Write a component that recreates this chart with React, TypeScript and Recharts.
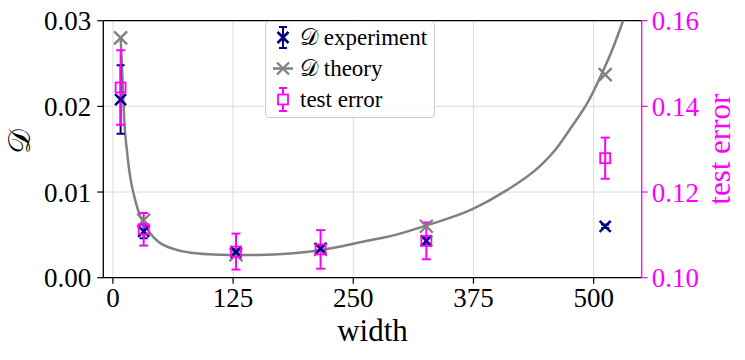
import React from "react";
import {
  ComposedChart,
  Line,
  Scatter,
  ErrorBar,
  XAxis,
  YAxis,
  CartesianGrid,
  ReferenceLine,
  Legend,
} from "recharts";

// couleurs façon matplotlib : navy / gris / magenta
const NAVY = "#000080";
const GRIS = "#808080";
const MAGENTA = "#ff00ff";
const GRILLE = "#dcdcdc";
const POLICE = "'Liberation Serif', 'DejaVu Serif', serif";

// largeurs testées
const largeurs = [8, 32, 128, 216, 326, 512];

// D mesuré (axe gauche) + barre d'erreur
const dExperience = [0.0208, 0.0054, 0.003, 0.0034, 0.0043, 0.006];
const dExperienceErr = [0.004, 0.0008, 0.0003, 0.0003, 0.0004, 0.0002];

// D théorique aux mêmes largeurs
const dTheorie = [0.028, 0.0067, 0.0027, 0.0033, 0.006, 0.0237];

// erreur de test (axe droit)
const erreurTest = [0.1444, 0.1113, 0.1061, 0.1066, 0.1086, 0.1279];
const erreurTestErr = [0.0087, 0.0038, 0.0042, 0.0045, 0.0043, 0.0048];

// courbe théorique
const courbeX = [
  8, 10.4, 11.7, 14.5, 17.9, 23.1, 28.3, 32, 38.7, 47.3, 64.6, 81.9, 99, 123,
  151, 168, 201, 230, 260, 294, 329, 374, 408, 443, 460, 477, 495, 508, 519, 531,
];
const courbeY = [
  0.0281, 0.0223, 0.0186, 0.0149, 0.0118, 0.0091, 0.0072, 0.0064, 0.0052,
  0.0042, 0.0033, 0.0029, 0.00273, 0.00265, 0.00265, 0.0027, 0.003, 0.0035,
  0.0042, 0.005, 0.0062, 0.008, 0.0101, 0.0129, 0.0149, 0.0176, 0.0207, 0.0237,
  0.0265, 0.0301,
];

const ticksX = [0, 125, 250, 375, 500];
const ticksD = [0, 0.01, 0.02, 0.03];
const ticksErreur = [0.1, 0.12, 0.14, 0.16];

const courbe = courbeX.map((x, i) => ({ x, y: courbeY[i] }));
const pointsExperience = largeurs.map((x, i) => ({ x, y: dExperience[i], err: dExperienceErr[i] }));
const pointsTheorie = largeurs.map((x, i) => ({ x, y: dTheorie[i] }));
const pointsErreur = largeurs.map((x, i) => ({ x, y: erreurTest[i], err: erreurTestErr[i] }));

function croix(couleur: string, r: number, ep: number) {
  return (p: any) => (
    <path
      d={`M${p.cx - r},${p.cy - r}L${p.cx + r},${p.cy + r}M${p.cx - r},${p.cy + r}L${p.cx + r},${p.cy - r}`}
      stroke={couleur}
      strokeWidth={ep}
      fill="none"
    />
  );
}

function carre(p: any) {
  return <rect x={p.cx - 5} y={p.cy - 5} width={10} height={10} stroke={MAGENTA} strokeWidth={1.8} fill="none" />;
}

function LegendeFigure() {
  const ligne: React.CSSProperties = { display: "flex", alignItems: "center", height: 31, whiteSpace: "pre" };
  const icone = { width: 34, height: 31 };
  return (
    <div
      style={{
        border: "1px solid #cccccc",
        borderRadius: 4,
        background: "rgba(255,255,255,0.85)",
        width: 168,
        padding: "0 0 2px 0",
        fontFamily: POLICE,
        fontSize: 23,
        color: "#000",
      }}
    >
      <div style={ligne}>
        <svg {...icone}>
          <path d="M17,5V26M13,5H21M13,26H21" stroke={NAVY} strokeWidth={2} />
          <path d="M11.5,10L22.5,21M11.5,21L22.5,10" stroke={NAVY} strokeWidth={2.5} />
        </svg>
        <span>{"𝒟 experiment"}</span>
      </div>
      <div style={ligne}>
        <svg {...icone}>
          <path d="M7,15.5H27" stroke={GRIS} strokeWidth={2.5} />
          <path d="M11,9.5L23,21.5M11,21.5L23,9.5" stroke={GRIS} strokeWidth={2.3} />
        </svg>
        <span>{"𝒟 theory"}</span>
      </div>
      <div style={ligne}>
        <svg {...icone}>
          <path d="M17,4V27M13,4H21M13,27H21" stroke={MAGENTA} strokeWidth={2} />
          <rect x={12} y={10.5} width={10} height={10} stroke={MAGENTA} strokeWidth={1.8} fill="white" />
        </svg>
        <span>test error</span>
      </div>
    </div>
  );
}

export default function App() {
  const tickStyle = { fontSize: 27, fill: "#000", fontFamily: POLICE };
  return (
    <div style={{ position: "absolute", left: 0, top: 0, background: "#fff" }}>
      <style>{`.recharts-wrapper text { font-family: 'Liberation Serif', 'DejaVu Serif', serif; }`}</style>
      <ComposedChart
        width={745}
        height={360}
        margin={{ top: 20.7, right: 0, bottom: 22.3, left: 0 }}
        style={{ fontFamily: POLICE }}
      >
        <CartesianGrid stroke={GRILLE} strokeWidth={1} yAxisId="d" />
        <XAxis
          type="number"
          dataKey="x"
          domain={[-10, 550]}
          ticks={ticksX}
          allowDataOverflow
          height={60}
          tick={tickStyle}
          tickSize={6}
          tickMargin={4}
          axisLine={{ stroke: "#000", strokeWidth: 1.3 }}
          tickLine={{ stroke: "#000", strokeWidth: 1.2 }}
          label={({ viewBox }: any) => (
            <text
              x={viewBox.x + viewBox.width / 2}
              y={viewBox.y + 63}
              textAnchor="middle"
              fontSize={31}
              fontFamily={POLICE}
              fill="#000"
            >
              width
            </text>
          )}
        />
        <YAxis
          yAxisId="d"
          type="number"
          domain={[0, 0.03]}
          ticks={ticksD}
          allowDataOverflow
          width={103.3}
          tick={tickStyle}
          tickSize={6}
          tickMargin={6}
          tickFormatter={(v: number) => v.toFixed(2)}
          axisLine={{ stroke: "#000", strokeWidth: 1.3 }}
          tickLine={{ stroke: "#000", strokeWidth: 1.2 }}
          label={({ viewBox }: any) => {
            const x = viewBox.x + 20;
            const y = viewBox.y + viewBox.height / 2 - 8;
            return (
              <text
                x={x}
                y={y}
                transform={`rotate(-90, ${x}, ${y})`}
                textAnchor="middle"
                dominantBaseline="central"
                fontSize={31}
                fontFamily={POLICE}
                fill="#000"
              >
                𝒟
              </text>
            );
          }}
        />
        <YAxis
          yAxisId="err"
          orientation="right"
          type="number"
          domain={[0.1, 0.16]}
          ticks={ticksErreur}
          allowDataOverflow
          width={103.3}
          tick={{ ...tickStyle, fill: MAGENTA }}
          tickSize={6}
          tickMargin={4}
          tickFormatter={(v: number) => v.toFixed(2)}
          axisLine={{ stroke: MAGENTA, strokeWidth: 1.3 }}
          tickLine={{ stroke: MAGENTA, strokeWidth: 1.2 }}
          label={({ viewBox }: any) => {
            const x = viewBox.x + 78;
            const y = viewBox.y + viewBox.height / 2;
            return (
              <text
                x={x}
                y={y}
                transform={`rotate(-90, ${x}, ${y})`}
                textAnchor="middle"
                dominantBaseline="central"
                fontSize={31}
                fontFamily={POLICE}
                fill={MAGENTA}
              >
                test error
              </text>
            );
          }}
        />
        <ReferenceLine y={0.03} yAxisId="d" stroke="#000" strokeWidth={1.3} />
        <Line
          data={courbe}
          dataKey="y"
          yAxisId="d"
          type="monotone"
          dot={false}
          stroke={GRIS}
          strokeWidth={2.5}
          isAnimationActive={false}
          legendType="none"
        />
        <Scatter
          data={pointsTheorie}
          dataKey="y"
          yAxisId="d"
          shape={croix(GRIS, 6.5, 2.3)}
          isAnimationActive={false}
        />
        <Scatter
          data={pointsExperience}
          dataKey="y"
          yAxisId="d"
          shape={croix(NAVY, 5.5, 2.5)}
          isAnimationActive={false}
        >
          <ErrorBar dataKey="err" direction="y" width={4} stroke={NAVY} strokeWidth={2} />
        </Scatter>
        <Scatter
          data={pointsErreur}
          dataKey="y"
          yAxisId="err"
          shape={carre}
          isAnimationActive={false}
        >
          <ErrorBar dataKey="err" direction="y" width={4.5} stroke={MAGENTA} strokeWidth={2} />
        </Scatter>
        <Legend
          layout="vertical"
          align="center"
          verticalAlign="middle"
          wrapperStyle={{ top: 21, left: 265, width: 170 }}
          content={() => <LegendeFigure />}
        />
      </ComposedChart>
    </div>
  );
}
